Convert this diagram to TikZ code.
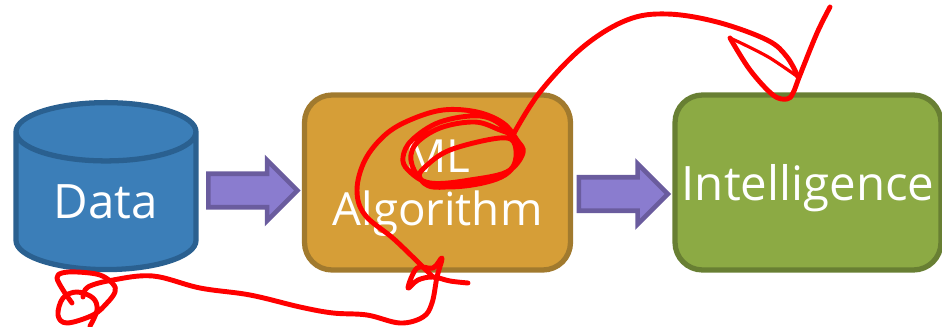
\documentclass[tikz,border=0pt]{standalone}
\usepackage{fontspec}
\setmainfont{Open Sans}
\usetikzlibrary{shapes.geometric}
\usetikzlibrary{shapes.arrows}
\definecolor{datafill}{HTML}{3B7EB8}
\definecolor{dataedge}{HTML}{2A6090}
\definecolor{algofill}{HTML}{D69E37}
\definecolor{algoedge}{HTML}{A17A2E}
\definecolor{intelfill}{HTML}{8CAA44}
\definecolor{inteledge}{HTML}{687F33}
\definecolor{arrowfill}{HTML}{8A7CCF}
\definecolor{arrowedge}{HTML}{6A5C9E}
\tikzset{
	label text/.style={text=white, font=\fontsize{27}{30}\selectfont, align=center},
	box/.style={rectangle, rounded corners=0.55cm, line width=3pt, minimum width=5.32cm, minimum height=3.5cm, outer sep=0pt, label text},
	flow/.style={single arrow, single arrow head extend=0.27cm, minimum height=1.78cm, inner xsep=0pt, inner ysep=0.29cm, outer sep=0pt, draw=arrowedge, fill=arrowfill, line width=2.6pt},
	ink/.style={draw=red, line width=2.8pt, line cap=round, line join=round}
}
\begin{document}
\begin{tikzpicture}[x=0.02cm, y=-0.02cm]
	\useasboundingbox (0,0) rectangle (942,327);
	\node (data) at (106,202) [cylinder, shape border rotate=90, shape aspect=0.56, minimum width=3.6cm, minimum height=3.34cm, inner sep=0pt, outer sep=0pt, cylinder uses custom fill, cylinder body fill=datafill, cylinder end fill=datafill, draw=dataedge, line width=3pt, label text] {Data};
	\node (algo) at (437.5,182.5) [box, draw=algoedge, fill=algofill, font=\fontsize{26}{30}\selectfont] {\rule{0pt}{25pt}ML\\Algorithm};
	\node (intel) at (808,182.5) [box, draw=inteledge, fill=intelfill] {\rule{0pt}{27pt}Intelligence};
	\node (flowa) at (244.5,190.5) [flow] {};
	\node (flowb) at (615,194) [flow] {};
	\draw[ink] plot[smooth, tension=0.6] coordinates {(72,303) (63,290) (57,278) (62,273) (77,272) (100,275) (113,284) (115,292) (107,303) (93,315) (67,323) (58,315) (63,298) (77,292) (93,298) (97,310) (90,326)};
	\draw[ink] plot[smooth, tension=0.6] coordinates {(83,297) (88,287) (113,280) (153,276) (200,288) (250,295) (300,307) (333,313) (367,315) (400,323) (423,317) (432,303) (437,277) (442,258) (433,268) (417,268) (408,288) (418,280) (433,277) (450,281) (468,283)};
	\draw[ink] plot[smooth, tension=0.6] coordinates {(433,277) (395,240) (365,215) (357,190) (365,160) (385,135) (410,120) (443,110) (477,112) (503,123) (517,140) (523,153) (507,172) (467,184) (433,187) (420,178) (424,168) (450,150) (500,138) (515,145) (510,170) (470,180) (430,183) (408,170) (403,157) (412,140) (440,122) (480,116) (505,128) (520,150) (505,175) (465,186) (428,184) (412,165) (415,145) (440,128) (475,122) (500,130) (513,135)};
	\draw[ink] plot[smooth, tension=0.6] coordinates {(513,135) (540,92) (583,47) (627,20) (667,14) (717,22) (767,40) (787,57) (798,77)};
	\draw[ink, line width=1.8pt] plot[smooth, tension=0.5] coordinates {(798,77) (770,58) (745,45) (730,38)};
	\draw[ink] plot[smooth, tension=0.6] coordinates {(730,38) (750,70) (773,95) (787,99) (793,93) (800,75) (817,33) (830,7)};
\end{tikzpicture}
\end{document}
